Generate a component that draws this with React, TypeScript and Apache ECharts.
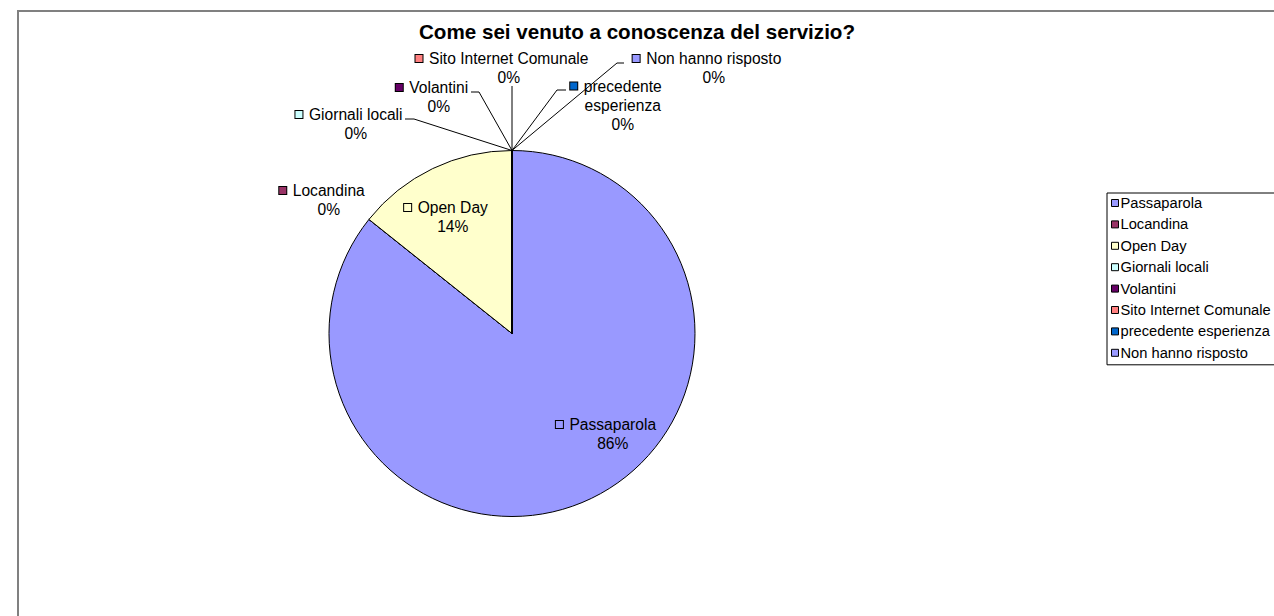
import React, { useEffect, useRef } from "react";
import * as echarts from "echarts";

const TITLE = "Come sei venuto a conoscenza del servizio?";
const CATEGORIES = [
  "Passaparola",
  "Locandina",
  "Open Day",
  "Giornali locali",
  "Volantini",
  "Sito Internet Comunale",
  "precedente esperienza",
  "Non hanno risposto",
];
const VALUES = [6, 0, 1, 0, 0, 0, 0, 0];
const COLORS = ["#9999FF", "#993366", "#FFFFCC", "#CCFFFF", "#660066", "#FF8080", "#0066CC", "#9999FF"];

// ---- layout (positions / styles only) ----
const FONT = "'Liberation Sans', Arial, Helvetica, sans-serif";
const LABEL_CENTERS: [number, number][] = [
  [606, 434],
  [322, 200],
  [446, 217],
  [349, 124],
  [432, 97],
  [502, 68],
  [616, 105],
  [707, 68],
];
// leader line: [start near label, elbow]; the end is the slice anchor from ECharts
const LEADERS: ([number, number][] | null)[] = [
  null,
  null,
  null,
  [[405, 119], [414, 119]],
  [[471, 92], [479, 92]],
  [[512, 86], [512, 86]],
  [[566, 90], [557, 90]],
  [[624, 63], [617, 63]],
];
const WRAP_AT_SPACE = [false, false, false, false, false, false, true, false];

export default function App() {
  const ref = useRef<HTMLDivElement>(null);

  useEffect(() => {
    if (!ref.current) return;
    const chart = echarts.init(ref.current, undefined, { renderer: "svg" });

    const rich: any = {
      n: { fontSize: 15.6, lineHeight: 19, color: "#000", fontFamily: FONT },
      g: { width: 6.5, height: 8 },
      sp: { width: 13.5, height: 8 },
    };
    COLORS.forEach((c, i) => {
      rich["k" + i] = {
        width: 7,
        height: 7,
        backgroundColor: c,
        borderColor: "#000",
        borderWidth: 1,
      };
    });

    const option: any = {
      animation: false,
      backgroundColor: "#fff",
      title: {
        text: TITLE,
        left: "center",
        top: 21,
        padding: [0, 4, 0, 0],
        textStyle: { fontSize: 20.6, fontWeight: "bold", color: "#000", fontFamily: FONT },
      },
      legend: {
        orient: "vertical",
        left: 1107,
        top: 193,
        padding: [2, 6, 4, 4],
        borderColor: "#000",
        borderWidth: 1,
        itemGap: 5.4,
        itemWidth: 7,
        itemHeight: 7,
        icon: "rect",
        selectedMode: false,
        itemStyle: { borderColor: "#000", borderWidth: 1 },
        textStyle: {
          fontSize: 14.7,
          lineHeight: 16,
          color: "#000",
          fontFamily: FONT,
          padding: [0, 0, 0, -3],
        },
        data: CATEGORIES,
      },
      graphic: [
        {
          type: "rect",
          silent: true,
          shape: { x: 18, y: 11, width: 1400, height: 800 },
          style: { fill: "none", stroke: "#808080", lineWidth: 2 },
        },
      ],
      series: [
        {
          type: "pie",
          center: [512, 333.5],
          radius: 183,
          startAngle: 90,
          clockwise: true,
          percentPrecision: 0,
          avoidLabelOverlap: false,
          emphasis: { disabled: true },
          itemStyle: { borderColor: "#000", borderWidth: 1 },
          label: {
            show: true,
            position: "outside",
            color: "#000",
            fontFamily: FONT,
            fontSize: 15.6,
            lineHeight: 19,
            align: "center",
            rich,
            formatter: (p: any) => {
              const i = p.dataIndex;
              const pct = `${p.percent}%`;
              const head = `{k${i}|}{g|}`;
              if (WRAP_AT_SPACE[i]) {
                const parts = String(p.name).split(" ");
                return `${head}{n|${parts[0]}}\n{sp|}{n|${parts.slice(1).join(" ")}}\n{sp|}{n|${pct}}`;
              }
              return `${head}{n|${p.name}}\n{sp|}{n|${pct}}`;
            },
          },
          labelLine: {
            show: true,
            length: 10,
            length2: 10,
            smooth: false,
            lineStyle: { color: "#000", width: 1 },
          },
          labelLayout: (p: any) => {
            const i = p.dataIndex;
            const [x, y] = LABEL_CENTERS[i];
            const res: any = { x, y, align: "center", verticalAlign: "middle" };
            const leader = LEADERS[i];
            if (leader && p.labelLinePoints) {
              const anchor = p.labelLinePoints[0];
              res.labelLinePoints = [leader[0], leader[1], anchor];
            }
            return res;
          },
          data: CATEGORIES.map((name, i) => ({
            name,
            value: VALUES[i],
            itemStyle: { color: COLORS[i] },
            labelLine: { show: LEADERS[i] != null },
          })),
        },
      ],
    };

    chart.setOption(option);
    return () => chart.dispose();
  }, []);

  return (
    <div
      ref={ref}
      style={{ position: "absolute", left: 0, top: 0, width: 1274, height: 616 }}
    />
  );
}
